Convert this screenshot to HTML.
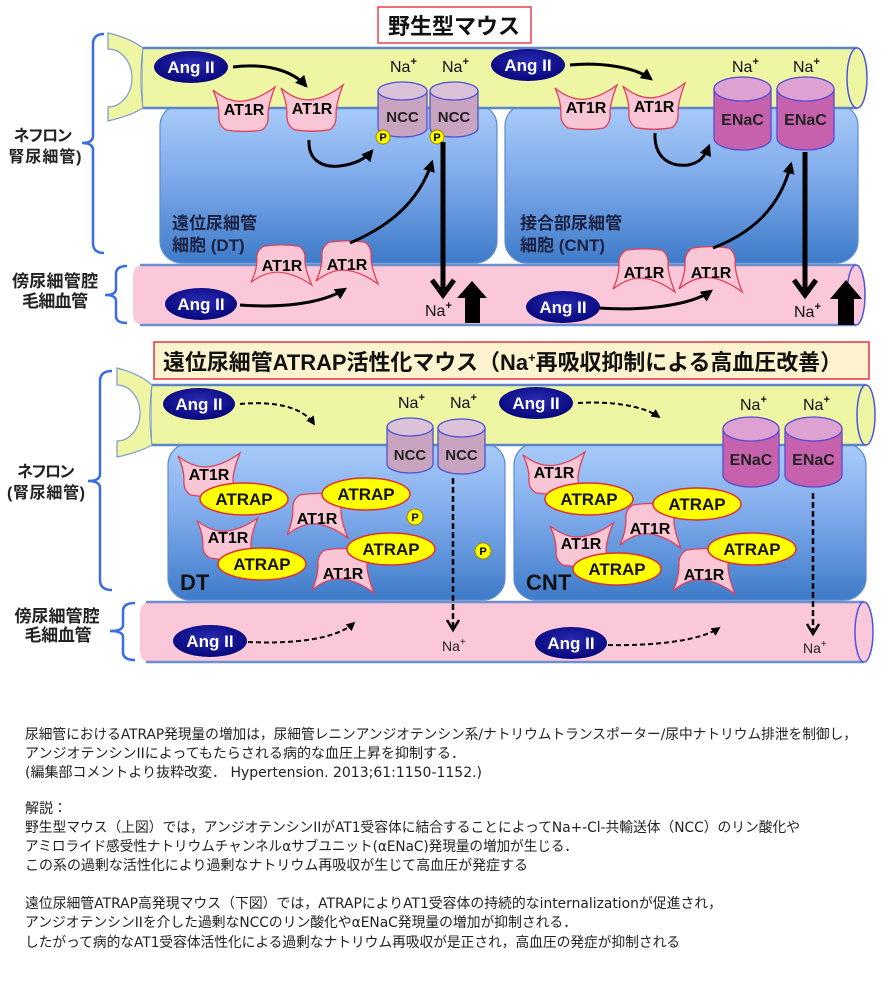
<!DOCTYPE html>
<html><head><meta charset="utf-8">
<style>
html,body{margin:0;padding:0;background:#fff;}
svg{display:block;}
.d{font-family:"Liberation Sans","Noto Sans CJK JP",sans-serif;}
.p{font-family:"DejaVu Sans","Noto Sans CJK JP",sans-serif;font-size:14px;fill:#222;}
</style></head>
<body>
<svg width="890" height="1000" viewBox="0 0 890 1000" xmlns="http://www.w3.org/2000/svg" class="d">
<defs>
<linearGradient id="cell" x1="0" y1="0" x2="0" y2="1">
<stop offset="0" stop-color="#a9ccf9"/><stop offset="0.45" stop-color="#80abeb"/><stop offset="1" stop-color="#3e7bc9"/>
</linearGradient>
<radialGradient id="ang" cx="0.5" cy="0.4" r="0.6">
<stop offset="0" stop-color="#2a2ab4"/><stop offset="1" stop-color="#06067a"/>
</radialGradient>
<marker id="ah" viewBox="0 0 10 10" refX="8" refY="5" markerWidth="4" markerHeight="4" orient="auto"><path d="M0,0 L10,5 L0,10 z" fill="#000"/></marker>
<marker id="ahd" viewBox="0 0 10 10" refX="8" refY="5" markerWidth="4.5" markerHeight="4.5" orient="auto"><path d="M0,0 L10,5 L0,10 z" fill="#000"/></marker>
<path id="at" d="M0,3 Q16,16 31,14 Q46,12 62,0 Q55,18 55,28 Q56,38 49,43 Q31,46 13,43 Q5,38 6,28 Q6,16 0,3 Z" fill="#f9c6d6" stroke="#e0405a" stroke-width="1.3"/>
</defs>

<!-- ================= TOP DIAGRAM ================= -->
<rect x="378" y="7" width="153" height="36" fill="#fff" stroke="#e8404f" stroke-width="1.5"/>
<text x="454" y="34" font-size="22" font-weight="bold" text-anchor="middle" fill="#111">野生型マウス</text>

<!-- brackets -->
<path d="M104,34 Q93,34 93,44 L93,136 Q93,143 82,143 Q93,143 93,150 L93,243 Q93,253 104,253" fill="none" stroke="#3a6ee0" stroke-width="2.5"/>
<path d="M127,266 Q116,266 116,274 L116,289 Q116,295 105,295 Q116,295 116,301 L116,316 Q116,323 127,323" fill="none" stroke="#3a6ee0" stroke-width="2.5"/>
<text x="43" y="141" font-size="16" font-weight="bold" text-anchor="middle" fill="#222" textLength="59">ネフロン</text>
<text x="45" y="162" font-size="16" font-weight="bold" text-anchor="middle" fill="#222" textLength="73">腎尿細管)</text>
<text x="55" y="287" font-size="17" font-weight="bold" text-anchor="middle" fill="#222" textLength="86">傍尿細管腔</text>
<text x="55" y="307" font-size="17" font-weight="bold" text-anchor="middle" fill="#222" textLength="66">毛細血管</text>

<!-- cells -->
<rect x="160" y="104" width="337" height="159" rx="22" fill="url(#cell)" stroke="#5d8bd2" stroke-width="1.2"/>
<rect x="505" y="104" width="353" height="159" rx="22" fill="url(#cell)" stroke="#5d8bd2" stroke-width="1.2"/>
<text x="172" y="229" font-size="17" font-weight="bold" fill="#1c2040">遠位尿細管</text>
<text x="172" y="251" font-size="17" font-weight="bold" fill="#1c2040">細胞 (DT)</text>
<text x="520" y="229" font-size="17" font-weight="bold" fill="#1c2040">接合部尿細管</text>
<text x="520" y="251" font-size="17" font-weight="bold" fill="#1c2040">細胞 (CNT)</text>

<!-- yellow tube top -->
<path d="M108,33 Q130,38 143,48 L143,108 Q130,116 108,121 L108,107 A24,29 0 0 0 108,49 Z" fill="#eff6a3" stroke="#7d9ad0" stroke-width="1.2"/>
<path d="M143,48 L857,48 L857,108 L143,108 Z" fill="#eff6a3"/>
<line x1="143" y1="48" x2="857" y2="48" stroke="#5d86c8" stroke-width="2.5"/>
<line x1="143" y1="108" x2="857" y2="108" stroke="#5d86c8" stroke-width="2.5"/>
<path d="M143,48 Q139,78 143,108" fill="none" stroke="#7d9ad0" stroke-width="1.2"/>
<ellipse cx="857" cy="78" rx="10" ry="30" fill="#eff6a3" stroke="#4a55e0" stroke-width="1.5"/>

<!-- pink tube top -->
<path d="M143,265 L856,265 L856,325 L143,325 Q133,325 133,313 L133,277 Q133,265 143,265 Z" fill="#fac8d9"/>
<line x1="140" y1="265" x2="856" y2="265" stroke="#6d8fd0" stroke-width="2.5"/>
<line x1="140" y1="325" x2="856" y2="325" stroke="#6d8fd0" stroke-width="2.5"/>
<ellipse cx="856" cy="295" rx="9" ry="30" fill="#fac8d9" stroke="#4a55e0" stroke-width="1.5"/>

<!-- Ang II top -->
<ellipse cx="191" cy="67" rx="37" ry="16" fill="url(#ang)"/>
<text x="191" y="73" font-size="17" font-weight="bold" fill="#fff" text-anchor="middle">Ang II</text>
<ellipse cx="201" cy="304" rx="36" ry="16" fill="url(#ang)"/>
<text x="201" y="310" font-size="17" font-weight="bold" fill="#fff" text-anchor="middle">Ang II</text>
<ellipse cx="528" cy="65" rx="37" ry="16" fill="url(#ang)"/>
<text x="528" y="71" font-size="17" font-weight="bold" fill="#fff" text-anchor="middle">Ang II</text>
<ellipse cx="563" cy="307" rx="37" ry="16" fill="url(#ang)"/>
<text x="563" y="313" font-size="17" font-weight="bold" fill="#fff" text-anchor="middle">Ang II</text>

<!-- AT1R top -->
<use href="#at" transform="translate(213,87)"/>
<text x="244" y="115" font-size="16" font-weight="bold" text-anchor="middle">AT1R</text>
<use href="#at" transform="translate(281,85) scale(1,1.04)"/>
<text x="312" y="114" font-size="16" font-weight="bold" text-anchor="middle">AT1R</text>
<use href="#at" transform="translate(555,85)"/>
<text x="586" y="113" font-size="16" font-weight="bold" text-anchor="middle">AT1R</text>
<use href="#at" transform="translate(623,83) scale(1,1.04)"/>
<text x="654" y="112" font-size="16" font-weight="bold" text-anchor="middle">AT1R</text>
<!-- AT1R bottom inverted -->
<use href="#at" transform="translate(251,285) scale(0.98,-0.9)"/>
<text x="282" y="271" font-size="16" font-weight="bold" text-anchor="middle">AT1R</text>
<use href="#at" transform="translate(316,284) scale(1,-0.97)"/>
<text x="347" y="270" font-size="16" font-weight="bold" text-anchor="middle">AT1R</text>
<use href="#at" transform="translate(613,292) scale(1,-0.97)"/>
<text x="644" y="278" font-size="16" font-weight="bold" text-anchor="middle">AT1R</text>
<use href="#at" transform="translate(679,292) scale(1.02,-1.02)"/>
<text x="711" y="278" font-size="16" font-weight="bold" text-anchor="middle">AT1R</text>

<!-- NCC top -->
<path d="M378,91 L378,128 A24.5,9 0 0 0 427,128 L427,91 Z" fill="#c8a4c0" stroke="#4f55d0" stroke-width="1.3"/>
<ellipse cx="402.5" cy="91" rx="24.5" ry="9" fill="#dcc2d8" stroke="#4f55d0" stroke-width="1.3"/>
<text x="402.5" y="122" font-size="15" font-weight="bold" text-anchor="middle" fill="#222">NCC</text>
<path d="M430,91 L430,128 A24,9 0 0 0 478,128 L478,91 Z" fill="#c8a4c0" stroke="#4f55d0" stroke-width="1.3"/>
<ellipse cx="454" cy="91" rx="24" ry="9" fill="#dcc2d8" stroke="#4f55d0" stroke-width="1.3"/>
<text x="454" y="122" font-size="15" font-weight="bold" text-anchor="middle" fill="#222">NCC</text>
<circle cx="383" cy="137" r="7" fill="#ffff00" stroke="#a08800" stroke-width="1"/>
<text x="383" y="141" font-size="11" font-weight="bold" text-anchor="middle">P</text>
<circle cx="437" cy="137" r="7" fill="#ffff00" stroke="#a08800" stroke-width="1"/>
<text x="437" y="141" font-size="11" font-weight="bold" text-anchor="middle">P</text>

<!-- ENaC top -->
<path d="M714,89 L714,138 A28.5,12 0 0 0 771,138 L771,89 Z" fill="#c662ad" stroke="#5a4ad0" stroke-width="1.3"/>
<ellipse cx="742.5" cy="89" rx="28.5" ry="12" fill="#dea2d2" stroke="#5a4ad0" stroke-width="1.3"/>
<text x="742.5" y="125" font-size="16" font-weight="bold" text-anchor="middle" fill="#222">ENaC</text>
<path d="M777,89 L777,138 A28.5,12 0 0 0 834,138 L834,89 Z" fill="#c662ad" stroke="#5a4ad0" stroke-width="1.3"/>
<ellipse cx="805.5" cy="89" rx="28.5" ry="12" fill="#dea2d2" stroke="#5a4ad0" stroke-width="1.3"/>
<text x="805.5" y="125" font-size="16" font-weight="bold" text-anchor="middle" fill="#222">ENaC</text>

<!-- Na+ top -->
<g font-size="16" fill="#111">
<text x="390" y="72">Na<tspan font-size="11" dy="-7" font-weight="bold">+</tspan></text>
<text x="442" y="72">Na<tspan font-size="11" dy="-7" font-weight="bold">+</tspan></text>
<text x="732" y="72">Na<tspan font-size="11" dy="-7" font-weight="bold">+</tspan></text>
<text x="793" y="72">Na<tspan font-size="11" dy="-7" font-weight="bold">+</tspan></text>
<text x="425" y="316">Na<tspan font-size="11" dy="-7" font-weight="bold">+</tspan></text>
<text x="794" y="317">Na<tspan font-size="11" dy="-7" font-weight="bold">+</tspan></text>
</g>

<!-- solid arrows -->
<g fill="none" stroke="#000" stroke-width="3" marker-end="url(#ah)">
<path d="M233,67 C265,63 292,70 306,86"/>
<path d="M309,140 C308,160 322,168 340,166 C356,164 366,158 372,151"/>
<path d="M350,243 C385,228 418,205 432,162"/>
<path d="M240,305 C280,308 322,304 345,289"/>
<path d="M570,65 C600,62 635,67 651,79"/>
<path d="M655,133 C654,158 670,167 688,165 C700,163 705,156 709,146"/>
<path d="M713,248 C752,233 780,208 791,164"/>
<path d="M599,308 C640,311 690,306 711,291"/>
</g>
<!-- big down arrows -->
<line x1="443" y1="142" x2="443" y2="293" stroke="#000" stroke-width="5"/>
<polyline points="432,280 443,295 454,280" fill="none" stroke="#000" stroke-width="5"/>
<line x1="805" y1="152" x2="805" y2="293" stroke="#000" stroke-width="5"/>
<polyline points="794,280 805,295 816,280" fill="none" stroke="#000" stroke-width="5"/>
<!-- up arrows -->
<polygon points="457,298 472,281 487,298 480,298 480,323 465,323 465,298" fill="#000"/>
<polygon points="830,299 846,280 862,299 854,299 854,325 838,325 838,299" fill="#000"/>

<!-- ================= BOTTOM DIAGRAM ================= -->
<rect x="154" y="342" width="715" height="37" fill="#fdf3cf" stroke="#e83040" stroke-width="1.5"/>
<text x="163" y="370" font-size="22" font-weight="bold" fill="#111" textLength="679" lengthAdjust="spacingAndGlyphs">遠位尿細管ATRAP活性化マウス（Na<tspan font-size="13" dy="-8">+</tspan><tspan dy="8">再吸収抑制による高血圧改善）</tspan></text>

<path d="M112,371 Q100,371 100,381 L100,474 Q100,481 88,481 Q100,481 100,488 L100,580 Q100,590 112,590" fill="none" stroke="#3a6ee0" stroke-width="2.5"/>
<path d="M135,603 Q123,603 123,611 L123,625 Q123,631 110,631 Q123,631 123,637 L123,652 Q123,660 135,660" fill="none" stroke="#3a6ee0" stroke-width="2.5"/>
<text x="46" y="477" font-size="16" font-weight="bold" text-anchor="middle" fill="#222" textLength="58">ネフロン</text>
<text x="46" y="498" font-size="16" font-weight="bold" text-anchor="middle" fill="#222" textLength="78">(腎尿細管)</text>
<text x="57" y="622" font-size="17" font-weight="bold" text-anchor="middle" fill="#222" textLength="85">傍尿細管腔</text>
<text x="58" y="641" font-size="17" font-weight="bold" text-anchor="middle" fill="#222" textLength="67">毛細血管</text>

<rect x="168" y="443" width="337" height="157" rx="22" fill="url(#cell)" stroke="#5d8bd2" stroke-width="1.2"/>
<rect x="514" y="443" width="352" height="157" rx="22" fill="url(#cell)" stroke="#5d8bd2" stroke-width="1.2"/>

<path d="M117,368 Q140,374 152,385 L152,445 Q140,452 117,457 L117,441 A23,28 0 0 0 117,385 Z" fill="#eff6a3" stroke="#7d9ad0" stroke-width="1.2"/>
<path d="M152,385 L866,385 L866,445 L152,445 Z" fill="#eff6a3"/>
<line x1="152" y1="385" x2="866" y2="385" stroke="#5d86c8" stroke-width="2.5"/>
<line x1="152" y1="445" x2="866" y2="445" stroke="#5d86c8" stroke-width="2.5"/>
<path d="M152,385 Q148,415 152,445" fill="none" stroke="#7d9ad0" stroke-width="1.2"/>
<ellipse cx="866" cy="415" rx="9" ry="30" fill="#eff6a3" stroke="#4a55e0" stroke-width="1.5"/>

<path d="M150,602 L864,602 L864,662 L150,662 Q140,662 140,650 L140,614 Q140,602 150,602 Z" fill="#fac8d9"/>
<line x1="146" y1="602" x2="864" y2="602" stroke="#6d8fd0" stroke-width="2.5"/>
<line x1="146" y1="662" x2="864" y2="662" stroke="#6d8fd0" stroke-width="2.5"/>
<ellipse cx="864" cy="632" rx="9" ry="30" fill="#fac8d9" stroke="#4a55e0" stroke-width="1.5"/>

<!-- Ang II bottom -->
<ellipse cx="199" cy="404" rx="36" ry="16" fill="url(#ang)"/>
<text x="199" y="410" font-size="17" font-weight="bold" fill="#fff" text-anchor="middle">Ang II</text>
<ellipse cx="536" cy="403" rx="37" ry="16" fill="url(#ang)"/>
<text x="536" y="409" font-size="17" font-weight="bold" fill="#fff" text-anchor="middle">Ang II</text>
<ellipse cx="210" cy="641" rx="37" ry="16" fill="url(#ang)"/>
<text x="210" y="647" font-size="17" font-weight="bold" fill="#fff" text-anchor="middle">Ang II</text>
<ellipse cx="571" cy="643" rx="36" ry="16" fill="url(#ang)"/>
<text x="571" y="649" font-size="17" font-weight="bold" fill="#fff" text-anchor="middle">Ang II</text>

<!-- NCC bottom -->
<path d="M387,427 L387,464 A23,9 0 0 0 433,464 L433,427 Z" fill="#c8a4c0" stroke="#4f55d0" stroke-width="1.3"/>
<ellipse cx="410" cy="427" rx="23" ry="9" fill="#dcc2d8" stroke="#4f55d0" stroke-width="1.3"/>
<text x="410" y="460" font-size="15" font-weight="bold" text-anchor="middle" fill="#222">NCC</text>
<path d="M438,428 L438,465 A23.5,9 0 0 0 485,465 L485,428 Z" fill="#c8a4c0" stroke="#4f55d0" stroke-width="1.3"/>
<ellipse cx="461.5" cy="428" rx="23.5" ry="9" fill="#dcc2d8" stroke="#4f55d0" stroke-width="1.3"/>
<text x="461.5" y="460" font-size="15" font-weight="bold" text-anchor="middle" fill="#222">NCC</text>

<!-- ENaC bottom -->
<path d="M723,429 L723,475 A28,12 0 0 0 779,475 L779,429 Z" fill="#c662ad" stroke="#5a4ad0" stroke-width="1.3"/>
<ellipse cx="751" cy="429" rx="28" ry="12" fill="#dea2d2" stroke="#5a4ad0" stroke-width="1.3"/>
<text x="751" y="465" font-size="16" font-weight="bold" text-anchor="middle" fill="#222">ENaC</text>
<path d="M785,429 L785,475 A28.5,12 0 0 0 842,475 L842,429 Z" fill="#c662ad" stroke="#5a4ad0" stroke-width="1.3"/>
<ellipse cx="813.5" cy="429" rx="28.5" ry="12" fill="#dea2d2" stroke="#5a4ad0" stroke-width="1.3"/>
<text x="813.5" y="465" font-size="16" font-weight="bold" text-anchor="middle" fill="#222">ENaC</text>

<g font-size="16" fill="#111">
<text x="398" y="408">Na<tspan font-size="11" dy="-7" font-weight="bold">+</tspan></text>
<text x="450" y="408">Na<tspan font-size="11" dy="-7" font-weight="bold">+</tspan></text>
<text x="740" y="410">Na<tspan font-size="11" dy="-7" font-weight="bold">+</tspan></text>
<text x="803" y="410">Na<tspan font-size="11" dy="-7" font-weight="bold">+</tspan></text>
</g>
<g font-size="14" fill="#222">
<text x="442" y="651">Na<tspan font-size="10" dy="-6">+</tspan></text>
<text x="803" y="653">Na<tspan font-size="10" dy="-6">+</tspan></text>
</g>

<!-- dashed arrows -->
<g fill="none" stroke="#000" stroke-width="2" stroke-dasharray="5,3" marker-end="url(#ahd)">
<path d="M240,404 C272,401 302,406 314,424"/>
<path d="M578,403 C608,401 642,405 659,417"/>
<path d="M248,642 C290,644 335,640 354,623"/>
<path d="M608,645 C652,646 700,641 719,628"/>
</g>
<line x1="453" y1="478" x2="453" y2="628" stroke="#000" stroke-width="2.5" stroke-dasharray="6,3"/>
<polyline points="447,620 453,630 459,620" fill="none" stroke="#000" stroke-width="2.5"/>
<line x1="813" y1="493" x2="813" y2="632" stroke="#000" stroke-width="2.5" stroke-dasharray="6,3"/>
<polyline points="807,624 813,634 819,624" fill="none" stroke="#000" stroke-width="2.5"/>

<!-- P bottom -->
<circle cx="415" cy="517" r="8" fill="#ffff00" stroke="#a08800" stroke-width="1"/>
<text x="415" y="521" font-size="11" font-weight="bold" text-anchor="middle">P</text>
<circle cx="483" cy="551" r="8" fill="#ffff00" stroke="#a08800" stroke-width="1"/>
<text x="483" y="555" font-size="11" font-weight="bold" text-anchor="middle">P</text>

<!-- DT AT1R -->
<use href="#at" transform="translate(178,453) scale(1,0.98)"/>
<text x="209" y="480" font-size="16" font-weight="bold" text-anchor="middle">AT1R</text>
<use href="#at" transform="translate(287,538) scale(0.98,-1)"/>
<text x="317" y="524" font-size="16" font-weight="bold" text-anchor="middle">AT1R</text>
<use href="#at" transform="translate(197,518) scale(0.98,0.93)"/>
<text x="228" y="543" font-size="16" font-weight="bold" text-anchor="middle">AT1R</text>
<use href="#at" transform="translate(312,593) scale(1,-1)"/>
<text x="343" y="579" font-size="16" font-weight="bold" text-anchor="middle">AT1R</text>

<!-- CNT AT1R -->
<use href="#at" transform="translate(523,452) scale(1,0.95)"/>
<text x="554" y="478" font-size="16" font-weight="bold" text-anchor="middle">AT1R</text>
<use href="#at" transform="translate(620,548) scale(0.98,-1)"/>
<text x="650" y="534" font-size="16" font-weight="bold" text-anchor="middle">AT1R</text>
<use href="#at" transform="translate(550,523) scale(1.02,0.98)"/>
<text x="581" y="549" font-size="16" font-weight="bold" text-anchor="middle">AT1R</text>
<use href="#at" transform="translate(673,594) scale(1,-1.02)"/>
<text x="704" y="580" font-size="16" font-weight="bold" text-anchor="middle">AT1R</text>

<!-- ATRAP ellipses -->
<g stroke="#e03030" stroke-width="1.5" fill="#ffff00">
<ellipse cx="244" cy="499" rx="44" ry="16"/>
<ellipse cx="366" cy="494" rx="44" ry="16"/>
<ellipse cx="262" cy="564" rx="44" ry="16"/>
<ellipse cx="391" cy="549" rx="44" ry="16"/>
<ellipse cx="589" cy="499" rx="44" ry="16"/>
<ellipse cx="697" cy="504" rx="44" ry="16"/>
<ellipse cx="617" cy="569" rx="44" ry="16"/>
<ellipse cx="752" cy="549" rx="44" ry="16"/>
</g>
<g font-size="17" font-weight="bold" text-anchor="middle" fill="#111">
<text x="244" y="505">ATRAP</text>
<text x="366" y="500">ATRAP</text>
<text x="262" y="570">ATRAP</text>
<text x="391" y="555">ATRAP</text>
<text x="589" y="505">ATRAP</text>
<text x="697" y="510">ATRAP</text>
<text x="617" y="575">ATRAP</text>
<text x="752" y="555">ATRAP</text>
</g>

<text x="180" y="590" font-size="22" font-weight="bold" fill="#111">DT</text>
<text x="526" y="590" font-size="22" font-weight="bold" fill="#111">CNT</text>

<!-- ================= PARAGRAPH ================= -->
<g class="p">
<text x="25" y="739" textLength="832" lengthAdjust="spacingAndGlyphs">尿細管におけるATRAP発現量の増加は，尿細管レニンアンジオテンシン系/ナトリウムトランスポーター/尿中ナトリウム排泄を制御し，</text>
<text x="25" y="758" textLength="440" lengthAdjust="spacingAndGlyphs">アンジオテンシンIIによってもたらされる病的な血圧上昇を抑制する．</text>
<text x="25" y="777" textLength="457" lengthAdjust="spacingAndGlyphs">(編集部コメントより抜粋改変． Hypertension. 2013;61:1150-1152.)</text>
<text x="25" y="813">解説：</text>
<text x="25" y="832" textLength="775" lengthAdjust="spacingAndGlyphs">野生型マウス（上図）では，アンジオテンシンIIがAT1受容体に結合することによってNa+-Cl-共輸送体（NCC）のリン酸化や</text>
<text x="25" y="851" textLength="553" lengthAdjust="spacingAndGlyphs">アミロライド感受性ナトリウムチャンネルαサブユニット(αENaC)発現量の増加が生じる．</text>
<text x="25" y="870" textLength="503" lengthAdjust="spacingAndGlyphs">この系の過剰な活性化により過剰なナトリウム再吸収が生じて高血圧が発症する</text>
<text x="25" y="908" textLength="697" lengthAdjust="spacingAndGlyphs">遠位尿細管ATRAP高発現マウス（下図）では，ATRAPによりAT1受容体の持続的なinternalizationが促進され，</text>
<text x="25" y="927" textLength="552" lengthAdjust="spacingAndGlyphs">アンジオテンシンIIを介した過剰なNCCのリン酸化やαENaC発現量の増加が抑制される．</text>
<text x="25" y="947" textLength="655" lengthAdjust="spacingAndGlyphs">したがって病的なAT1受容体活性化による過剰なナトリウム再吸収が是正され，高血圧の発症が抑制される</text>
</g>
</svg>
</body></html>
